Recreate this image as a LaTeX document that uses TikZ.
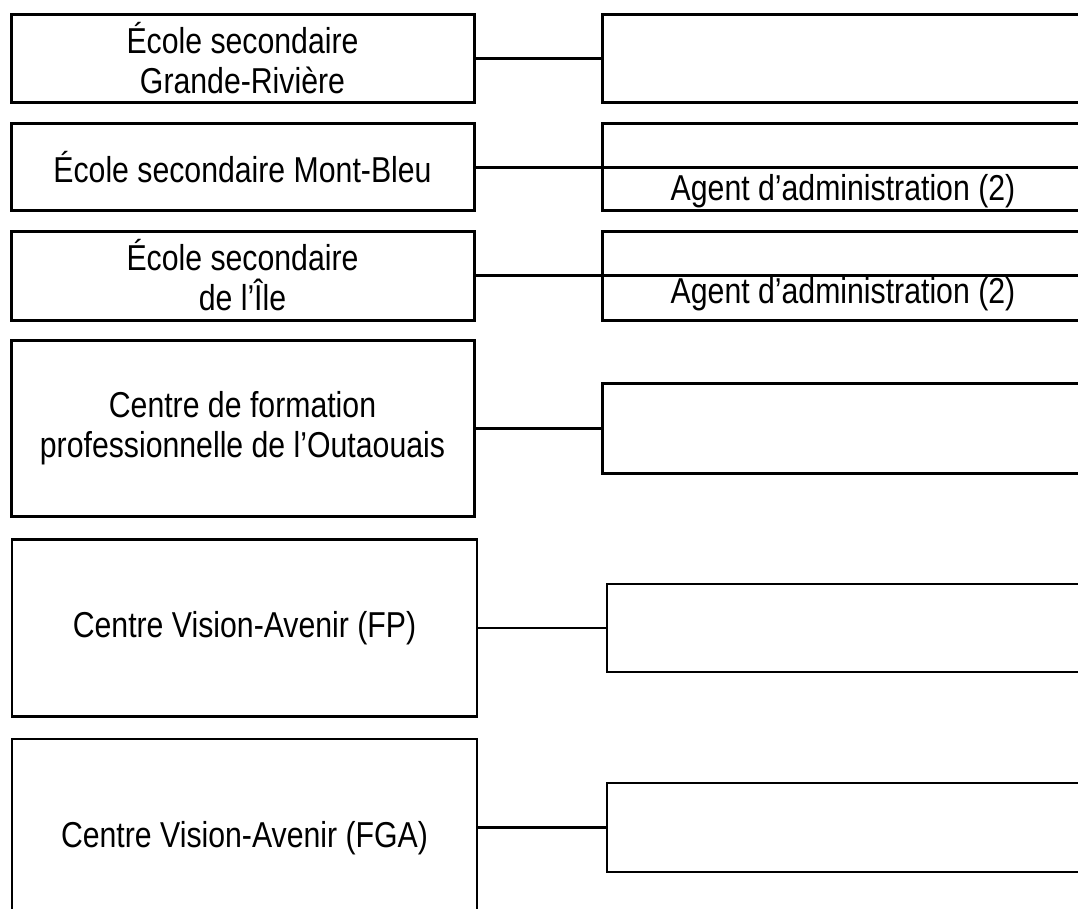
\documentclass[tikz,border=0pt]{standalone}
\usepackage{fontspec}
\setmainfont{Liberation Sans}[FakeStretch=0.84]
\begin{document}
\begin{tikzpicture}[x=1pt,y=-1pt,
  txt/.style={font=\fontsize{36}{40}\selectfont},
  box/.style={draw=black,line width=3pt,inner sep=0pt,outer sep=0pt,align=center,txt},
  lbox/.style={box,minimum width=463pt},
  lboxb/.style={box,line width=2.4pt,minimum width=465pt},
  rbox/.style={draw=black,line width=3pt,inner sep=0pt,outer sep=0pt,minimum width=488pt},
  rboxb/.style={rbox,line width=2.4pt,minimum width=483pt},
  link/.style={draw=black,line width=3pt},
  linkb/.style={draw=black,line width=2.4pt},
  lbl/.style={anchor=base,inner sep=0pt,txt}]
\useasboundingbox (0,0) rectangle (1078,908);
\clip (0,0) rectangle (1078,908);
% row 1
\node[lbox,minimum height=88pt] (l1) at (242.5,58) {École secondaire\\Grande-Rivière};
\node[rbox,minimum height=88pt] (r1) at (846,58) {};
\draw[link] (l1.east) -- (r1.west);
% row 2
\node[lbox,minimum height=87.5pt] (l2) at (242.5,167) {École secondaire Mont-Bleu};
\node[rbox,minimum height=87.5pt] (r2) at (846,167) {};
\draw[link] (l2.east) -- (r2.west);
\draw[link] (r2.west) -- (r2.east);
\node[lbl] (a2) at (843,200) {Agent d’administration (2)};
% row 3
\node[lbox,minimum height=89pt] (l3) at (242.5,275.5) {École secondaire\\de l’Île};
\node[rbox,minimum height=89pt] (r3) at (846,275.5) {};
\draw[link] (l3.east) -- (r3.west);
\draw[link] (r3.west) -- (r3.east);
\node[lbl] (a3) at (843,303.3) {Agent d’administration (2)};
% row 4
\node[lbox,minimum height=176pt] (l4) at (242.5,428) {Centre de formation\\professionnelle de l’Outaouais};
\node[rbox,minimum height=90pt] (r4) at (846,428) {};
\draw[link] (l4.east) -- (r4.west);
% row 5
\node[lboxb,minimum height=176.7pt] (l5) at (244.5,628) {Centre Vision-Avenir (FP)};
\node[rboxb,minimum height=87.7pt] (r5) at (848.5,628) {};
\draw[linkb] (l5.east) -- (r5.west);
% row 6
\node[lboxb,minimum height=198pt] (l6) at (244.5,838) {Centre Vision-Avenir (FGA)};
\node[rboxb,minimum height=88.7pt] (r6) at (848.5,827.5) {};
\draw[linkb] (r6.west -| l6.east) -- (r6.west);
\end{tikzpicture}
\end{document}
